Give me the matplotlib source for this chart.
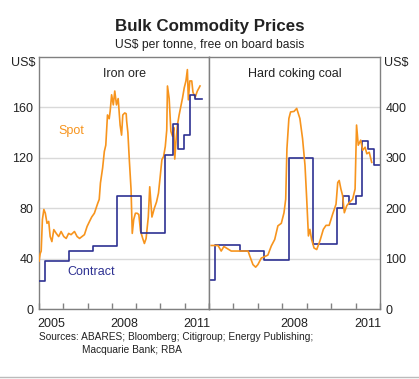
import matplotlib
matplotlib.use("Agg")
import matplotlib.pyplot as plt
from matplotlib.lines import Line2D

plt.rcParams['font.family'] = ['Liberation Sans', 'DejaVu Sans']

# ---------------- data ----------------
iron_spot_x = [2005.0, 2005.05, 2005.09, 2005.14, 2005.20, 2005.26, 2005.33, 2005.40, 2005.46, 2005.53,
               2005.61, 2005.71, 2005.81, 2005.91, 2006.02, 2006.12, 2006.22, 2006.32, 2006.46, 2006.57,
               2006.67, 2006.77, 2006.87, 2006.98, 2007.08, 2007.17, 2007.28, 2007.35, 2007.42, 2007.48,
               2007.53, 2007.62, 2007.69, 2007.75, 2007.82, 2007.89, 2007.93, 2007.99, 2008.06, 2008.12,
               2008.19, 2008.26, 2008.34, 2008.40, 2008.45, 2008.53, 2008.59, 2008.61, 2008.66, 2008.72,
               2008.79, 2008.84, 2008.90, 2008.97, 2009.04, 2009.11, 2009.18, 2009.27, 2009.34, 2009.41,
               2009.50, 2009.56, 2009.65, 2009.75, 2009.84, 2009.92, 2009.99, 2010.06, 2010.13, 2010.20,
               2010.26, 2010.29, 2010.36, 2010.43, 2010.50, 2010.55, 2010.59, 2010.64, 2010.70, 2010.77,
               2010.91, 2010.98, 2011.05, 2011.11, 2011.15, 2011.21, 2011.29, 2011.34, 2011.43, 2011.52,
               2011.59, 2011.63]
iron_spot_y = [38, 44, 46, 71, 79, 76, 68, 69.5, 57.5, 53.5,
               63, 60, 57.5, 61.5, 57.5, 56, 60, 59, 61.5, 57.5,
               56, 57.5, 59, 65.5, 69.5, 73, 76, 80, 84, 87,
               100, 112, 125, 130, 154, 151, 157, 170, 162, 173,
               162, 167, 146, 138, 154, 155.6, 155, 149, 140, 118,
               95, 60, 71, 76, 76, 75, 62, 56, 52, 56,
               73, 97, 73, 80, 85, 92, 105, 118.5, 121, 129,
               142, 177, 167, 141, 137, 144, 119, 133, 146, 154,
               167.5, 175.5, 181, 190, 166, 181, 181, 172, 168, 173,
               175.5, 177]

iron_contract_x = [2005.0, 2005.23, 2006.23, 2007.21, 2008.2, 2009.2, 2010.2, 2010.5,
                   2010.72, 2010.98, 2011.22, 2011.43, 2011.7]
iron_contract_y = [22.5, 38.4, 46, 50, 90, 60, 122, 147, 127, 138, 170, 167, 167]

coal_spot_x = [2005.09, 2005.37, 2005.50, 2005.61, 2005.71, 2005.91, 2006.60, 2006.67, 2006.80, 2006.91,
               2007.0, 2007.14, 2007.28, 2007.41, 2007.55, 2007.69, 2007.82, 2007.96, 2008.07, 2008.14,
               2008.19, 2008.27, 2008.34, 2008.48, 2008.59, 2008.72, 2008.83, 2008.93, 2009.0, 2009.07,
               2009.13, 2009.20, 2009.30, 2009.41, 2009.54, 2009.68, 2009.79, 2009.92, 2010.06, 2010.20,
               2010.27, 2010.33, 2010.40, 2010.47, 2010.54, 2010.64, 2010.74, 2010.88, 2010.98, 2011.04,
               2011.11, 2011.21, 2011.29, 2011.39, 2011.46, 2011.56, 2011.66]
coal_spot_y = [126, 126, 115, 124, 121, 115, 115, 105, 88, 83,
               88, 101, 104, 107, 125, 138, 165, 170, 191, 218,
               318, 378, 391, 392, 398, 378, 338, 285, 218, 145,
               158, 138, 121, 118, 135, 158, 166, 166, 188, 208,
               251, 255, 238, 225, 191, 205, 211, 218, 238, 365,
               325, 335, 315, 321, 308, 311, 291]

coal_contract_x = [2005.0, 2005.26, 2006.27, 2007.25, 2008.26, 2009.24, 2010.25, 2010.5,
                   2010.74, 2011.02, 2011.26, 2011.51, 2011.75, 2012.0]
coal_contract_y = [57, 126, 115, 97, 300, 129, 201, 225, 209, 225, 333, 317, 286, 286]

left_yticks = [0, 40, 80, 120, 160]
right_yticks = [0, 100, 200, 300, 400]
year_ticks = [2005, 2006, 2007, 2008, 2009, 2010, 2011, 2012]
left_year_labels = ['2005', '2008', '2011']
right_year_labels = ['2008', '2011']

# ---------------- style ----------------
ORANGE = '#F7941D'
NAVY = '#2E3192'
GRID = '#D9D9D9'
FRAME = '#808080'
TXT = '#222222'

W, H = 419, 379
fig = plt.figure(figsize=(W / 100, H / 100), dpi=100)

x0, x_mid, x1 = 39 / W, 209 / W, 380 / W
yb, yt = 1 - 309 / H, 1 - 57 / H

axL = fig.add_axes([x0, yb, x_mid - x0, yt - yb])
axR = fig.add_axes([x_mid, yb, x1 - x_mid, yt - yb])

for ax, ymax, yt_list in [(axL, 200, left_yticks), (axR, 500, right_yticks)]:
    ax.set_xlim(2005, 2012)
    ax.set_ylim(0, ymax)
    ax.set_yticks(yt_list)
    ax.grid(axis='y', color=GRID, lw=1.0, zorder=0)
    ax.set_axisbelow(True)
    for s in ax.spines.values():
        s.set_color(FRAME)
        s.set_linewidth(1.0)
    ax.set_xticks(year_ticks)
    ax.set_xticklabels([])
    ax.tick_params(axis='x', direction='in', length=4, color=FRAME, width=1.0)
    ax.tick_params(axis='y', length=0, labelsize=9, colors=TXT, pad=4)

axR.yaxis.tick_right()
axR.tick_params(axis='y', length=0, labelsize=9, colors=TXT, pad=4)

# year labels at mid-year
for lab in left_year_labels:
    axL.text(int(lab) + 0.5, -0.035, lab, transform=axL.get_xaxis_transform(),
             ha='center', va='top', fontsize=9, color=TXT)
for lab in right_year_labels:
    axR.text(int(lab) + 0.5, -0.035, lab, transform=axR.get_xaxis_transform(),
             ha='center', va='top', fontsize=9, color=TXT)

# US$ labels
fig.text(36 / W, 1 - 63 / H, 'US$', ha='right', va='center', fontsize=9, color=TXT)
fig.text(384 / W, 1 - 63 / H, 'US$', ha='left', va='center', fontsize=9, color=TXT)

# series
axL.plot(iron_spot_x, iron_spot_y, color=ORANGE, lw=1.2, zorder=3)
axL.plot(iron_contract_x, iron_contract_y, color=NAVY, lw=1.2, drawstyle='steps-post', zorder=4)
axR.plot(coal_spot_x, coal_spot_y, color=ORANGE, lw=1.2, zorder=3)
axR.plot(coal_contract_x, coal_contract_y, color=NAVY, lw=1.2, drawstyle='steps-post', zorder=2)

# panel titles
axL.text(0.5, 0.955, 'Iron ore', transform=axL.transAxes, ha='center', va='top', fontsize=9, color=TXT)
axR.text(0.5, 0.955, 'Hard coking coal', transform=axR.transAxes, ha='center', va='top', fontsize=9, color=TXT)

# series labels
axL.text(2006.35, 141, 'Spot', color=ORANGE, fontsize=9, ha='center', va='center')
axL.text(2007.16, 29, 'Contract', color=NAVY, fontsize=9, ha='center', va='center')

# titles
fig.text(0.5, 1 - 27 / H, 'Bulk Commodity Prices', ha='center', va='center',
         fontsize=12.2, fontweight='bold', color=TXT)
fig.text(0.5, 1 - 45 / H, 'US$ per tonne, free on board basis', ha='center', va='center',
         fontsize=8.7, color=TXT)

# sources
fig.text(39 / W, 1 - 337 / H, 'Sources: ABARES; Bloomberg; Citigroup; Energy Publishing;',
         ha='left', va='center', fontsize=7.3, color=TXT)
fig.text(82 / W, 1 - 350 / H, 'Macquarie Bank; RBA', ha='left', va='center', fontsize=7.3, color=TXT)

# bottom rule
fig.add_artist(Line2D([0, 1], [1 - 377 / H, 1 - 377 / H], transform=fig.transFigure,
                      color='#BBBBBB', lw=1.0))

fig.savefig('out.png', dpi=100)
